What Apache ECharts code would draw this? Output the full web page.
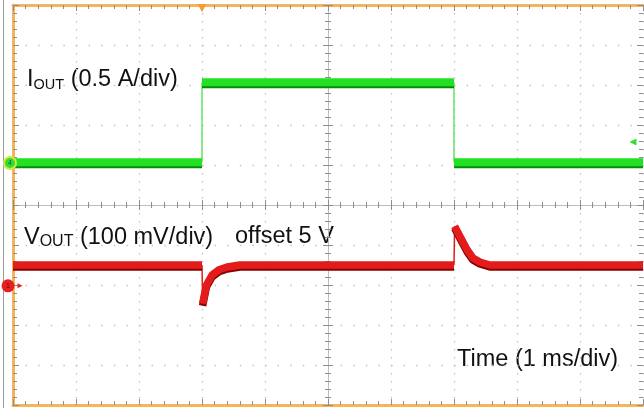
<!DOCTYPE html>
<html><head><meta charset="utf-8">
<script src="https://cdn.jsdelivr.net/npm/echarts@6/dist/echarts.min.js"></script>
<style>html,body{margin:0;padding:0;background:#fff}#c{width:644px;height:408px}</style>
</head><body><div id="c"></div>
<script>
// Horizontal: 10 divisions, 1 ms/div. Vertical: 10 divisions (counted from bottom)
const timeDivisions = [0, 10];
const levelDivisions = [0, 10];
// IOUT trace (0.5 A/div)
const ioutTime  = [0, 3.0, 3.0, 7.0, 7.0, 10];
const ioutLevel = [6.07, 6.07, 8.07, 8.07, 6.07, 6.07];
// VOUT trace (100 mV/div, offset 5 V)
const voutTime  = [0, 3.0, 3.01, 3.07, 3.16, 3.27, 3.40, 3.60, 7.0, 7.01, 7.10, 7.21, 7.30, 7.41, 7.57, 10];
const voutLevel = [3.5, 3.5, 2.53, 3.0, 3.25, 3.38, 3.45, 3.5, 3.5, 4.47, 4.2, 3.875, 3.675, 3.575, 3.5, 3.5];
// scope markers
const triggerTime = 3.0;
const triggerLevelTime = 9.84;
const triggerLevel = 6.575;
const ch4Ground = 6.05;
const ch1Ground = 2.98;
// labels
const labelIout = ['I', 'OUT', ' (0.5 A/div)'];
const labelVout = ['V', 'OUT', ' (100 mV/div)'];
const labelOffset = 'offset 5 V';
const labelTime = 'Time (1 ms/div)';

// steep (edge) segments are drawn thin, everything else as the thick noisy band
function splitTrace(ts, vs) {
  const band = [], edge = [];
  const gap = ['-', '-'];
  for (let i = 0; i < ts.length - 1; i++) {
    const a = [ts[i], vs[i]], b = [ts[i + 1], vs[i + 1]];
    const steep = (ts[i + 1] - ts[i]) < 0.02 && vs[i] !== vs[i + 1];
    const tgt = steep ? edge : band;
    const last = tgt[tgt.length - 1];
    if (!last || last[0] !== a[0] || last[1] !== a[1]) {
      if (tgt.length) tgt.push(gap);
      tgt.push(a);
    }
    tgt.push(b);
  }
  return { band, edge };
}
const iTr = splitTrace(ioutTime, ioutLevel);
const vTr = splitTrace(voutTime, voutLevel);

const FONT = "'Liberation Sans', Arial, Helvetica, sans-serif";
const orange = '#f3b45c';
const tickC = '#8e8e8e';
const dotC = '#c2c2c2';
const gridBox = { left: 13, top: 5, width: 630, height: 400 };

function borderX(pos, split) {
  return {
    gridIndex: 0, type: 'value', min: timeDivisions[0], max: timeDivisions[1], interval: 1, position: pos,
    axisLine: { show: true, onZero: false, lineStyle: { color: orange, width: 3 } },
    axisTick: { show: true, inside: true, length: 6, lineStyle: { color: tickC } },
    minorTick: { show: true, splitNumber: 5, length: 4, lineStyle: { color: tickC } },
    axisLabel: { show: false },
    splitLine: { show: split, lineStyle: { color: dotC, width: 1.3, type: [1.5, 6.5] } }
  };
}
function borderY(pos, split, line) {
  return {
    gridIndex: 0, type: 'value', min: levelDivisions[0], max: levelDivisions[1], interval: 1, position: pos,
    axisLine: { show: line, onZero: false, lineStyle: { color: orange, width: 3 } },
    axisTick: { show: true, inside: true, length: 6, lineStyle: { color: tickC } },
    minorTick: { show: true, splitNumber: 5, length: 4, lineStyle: { color: tickC } },
    axisLabel: { show: false },
    splitLine: { show: split, lineStyle: { color: dotC, width: 1.3, type: [1.5, 11.1] } }
  };
}
function centerAxis(gi, inside) {
  return {
    gridIndex: gi, type: 'value', min: -5, max: 5, interval: 1,
    axisLine: { show: true, onZero: true, lineStyle: { color: '#bdbdbd', width: 1 } },
    axisTick: { show: true, inside: inside, length: 5, lineStyle: { color: tickC } },
    minorTick: { show: true, splitNumber: 5, length: 3, lineStyle: { color: tickC } },
    axisLabel: { show: false }, splitLine: { show: false }
  };
}

function richStyle(sub) {
  return {
    a: { fontSize: 23.5, fontFamily: FONT, fill: '#111', verticalAlign: 'bottom', lineHeight: 26 },
    b: { fontSize: sub, fontFamily: FONT, fill: '#111', verticalAlign: 'bottom', lineHeight: 26 }
  };
}

const chart = echarts.init(document.getElementById('c'), null, { renderer: 'canvas' });
chart.setOption({
  animation: false,
  backgroundColor: '#ffffff',
  grid: [gridBox, gridBox, gridBox],
  xAxis: [borderX('bottom', true), borderX('top', false), centerAxis(1, true), centerAxis(2, false)],
  yAxis: [borderY('left', true, true), borderY('right', false, false), centerAxis(1, true), centerAxis(2, false)],
  series: [
    { type: 'line', xAxisIndex: 0, yAxisIndex: 0, data: iTr.edge, symbol: 'none', connectNulls: false,
      lineStyle: { color: '#63e663', width: 1.5 }, z: 3 },
    { type: 'line', xAxisIndex: 0, yAxisIndex: 0, data: iTr.band, symbol: 'none', connectNulls: false,
      lineStyle: { color: '#22e122', width: 8, shadowColor: '#0a8a0a', shadowOffsetY: 2, shadowBlur: 0 }, z: 3,
      markPoint: {
        silent: true,
        data: [
          { coord: [timeDivisions[0], ch4Ground], symbol: 'circle', symbolSize: 12, symbolOffset: [-3, 0],
            itemStyle: { color: '#33dd33', borderColor: '#d6e43c', borderWidth: 2 },
            label: { show: true, formatter: '4', fontSize: 7, color: '#064', fontFamily: FONT } },
          { coord: [triggerTime, levelDivisions[1]], symbol: 'triangle', symbolSize: [9, 8], symbolRotate: 180, symbolOffset: [0, 3],
            itemStyle: { color: '#f0a030' }, label: { show: false } },
          { coord: [triggerLevelTime, triggerLevel], symbol: 'triangle', symbolSize: [7, 7], symbolRotate: 90,
            itemStyle: { color: '#33dd33' }, label: { show: false } }
        ]
      } },
    { type: 'line', xAxisIndex: 0, yAxisIndex: 0, data: vTr.edge, symbol: 'none', connectNulls: false,
      lineStyle: { color: '#e41b1b', width: 1.5 }, z: 3 },
    { type: 'line', xAxisIndex: 0, yAxisIndex: 0, data: vTr.band, symbol: 'none', connectNulls: false,
      lineStyle: { color: '#e41b1b', width: 7.5, shadowColor: '#8a0000', shadowOffsetY: 2, shadowBlur: 0, join: 'round' }, z: 3,
      markPoint: {
        silent: true,
        data: [
          { coord: [timeDivisions[0], ch1Ground], symbol: 'circle', symbolSize: 13, symbolOffset: [-5, 0],
            itemStyle: { color: '#e52020' },
            label: { show: true, formatter: '1', fontSize: 7, color: '#600', fontFamily: FONT } },
          { coord: [timeDivisions[0], ch1Ground], symbol: 'triangle', symbolSize: [5, 5], symbolRotate: -90, symbolOffset: [7, 0],
            itemStyle: { color: '#e52020' }, label: { show: false } }
        ]
      } }
  ],
  graphic: [
    { type: 'line', shape: { x1: 3.5, y1: 0, x2: 3.5, y2: 408 }, style: { stroke: '#9a9a9a', lineWidth: 1 } },
    { type: 'text', x: 27, y: 79, style: {
        text: '{a|' + labelIout[0] + '}{b|' + labelIout[1] + '}{a|' + labelIout[2] + '}',
        verticalAlign: 'middle', fill: '#111', rich: richStyle(14.5) } },
    { type: 'text', x: 24, y: 237, style: {
        text: '{a|' + labelVout[0] + '}{b|' + labelVout[1] + '}{a|' + labelVout[2] + '}',
        verticalAlign: 'middle', fill: '#111', rich: richStyle(16) } },
    { type: 'text', x: 235, y: 237, style: { text: labelOffset, font: '23.5px ' + FONT, fill: '#111', verticalAlign: 'middle' } },
    { type: 'text', x: 457, y: 360, style: { text: labelTime, font: '23.5px ' + FONT, fill: '#111', verticalAlign: 'middle' } }
  ]
});
</script></body></html>
